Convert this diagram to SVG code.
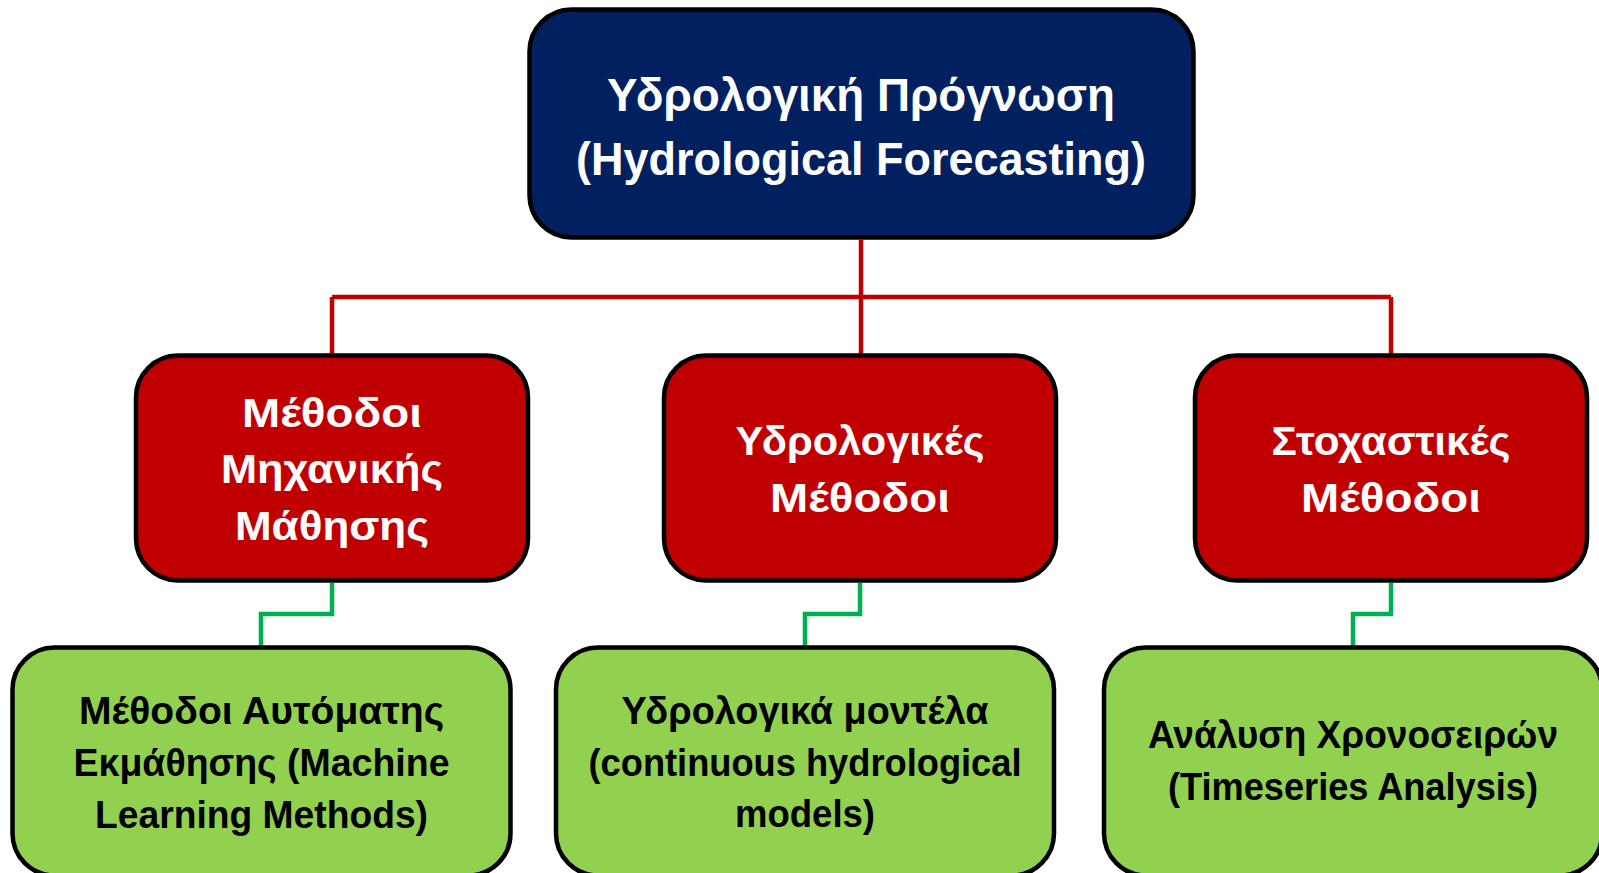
<svg xmlns="http://www.w3.org/2000/svg" width="1599" height="873" viewBox="0 0 1599 873">
<style>
.box{stroke:#000;stroke-width:4.5}
.top{fill:#002060}
.red{fill:#C00000}
.grn{fill:#92D050}
.t{font-family:"Liberation Sans",Arial,sans-serif;font-weight:bold;text-anchor:middle}
.w{fill:#fff}
.k{fill:#000}
.rl{fill:none;stroke:#C00000;stroke-width:4.5}
.gl{fill:none;stroke:#00B050;stroke-width:4.5;stroke-linejoin:miter}
</style>
<rect width="1599" height="873" fill="#fff"/>
<g id="connectors">
<path class="rl" d="M861 240 V354 M332 297 H1391 M332 297 V354 M1391 297 V354"/>
<path class="gl" d="M332 583 V614 H261 V646"/>
<path class="gl" d="M860 583 V614 H805 V646"/>
<path class="gl" d="M1391 583 V614 H1353 V646"/>
</g>
<g id="node-root">
<rect class="box top" x="529.5" y="9.5" width="664" height="228" rx="42"/>
<text class="t w" font-size="47" x="861" y="111" textLength="508" lengthAdjust="spacingAndGlyphs">Υδρολογική Πρόγνωση</text>
<text class="t w" font-size="47" x="861" y="175" textLength="570" lengthAdjust="spacingAndGlyphs">(Hydrological Forecasting)</text>
</g>
<g id="node-ml">
<rect class="box red" x="136" y="355.5" width="392" height="225" rx="42"/>
<text class="t w" font-size="40" x="332" y="427" textLength="180" lengthAdjust="spacingAndGlyphs">Μέθοδοι</text>
<text class="t w" font-size="40" x="332" y="483" textLength="222" lengthAdjust="spacingAndGlyphs">Μηχανικής</text>
<text class="t w" font-size="40" x="332" y="540" textLength="194" lengthAdjust="spacingAndGlyphs">Μάθησης</text>
</g>
<g id="node-hydro">
<rect class="box red" x="664" y="355.5" width="392" height="225" rx="42"/>
<text class="t w" font-size="40" x="860" y="455" textLength="249" lengthAdjust="spacingAndGlyphs">Υδρολογικές</text>
<text class="t w" font-size="40" x="860" y="512" textLength="180" lengthAdjust="spacingAndGlyphs">Μέθοδοι</text>
</g>
<g id="node-stoch">
<rect class="box red" x="1195" y="355.5" width="392" height="225" rx="42"/>
<text class="t w" font-size="40" x="1391" y="455" textLength="239" lengthAdjust="spacingAndGlyphs">Στοχαστικές</text>
<text class="t w" font-size="40" x="1391" y="512" textLength="180" lengthAdjust="spacingAndGlyphs">Μέθοδοι</text>
</g>
<g id="node-mlm">
<rect class="box grn" x="12.5" y="647.5" width="498" height="228" rx="42"/>
<text class="t k" font-size="39.5" x="261.5" y="724" textLength="365" lengthAdjust="spacingAndGlyphs">Μέθοδοι Αυτόματης</text>
<text class="t k" font-size="39.5" x="261.5" y="776" textLength="376" lengthAdjust="spacingAndGlyphs">Εκμάθησης (Machine</text>
<text class="t k" font-size="39.5" x="261.5" y="828" textLength="333" lengthAdjust="spacingAndGlyphs">Learning Methods)</text>
</g>
<g id="node-models">
<rect class="box grn" x="556" y="647.5" width="498" height="228" rx="42"/>
<text class="t k" font-size="39.5" x="805" y="724" textLength="367" lengthAdjust="spacingAndGlyphs">Υδρολογικά μοντέλα</text>
<text class="t k" font-size="39.5" x="805" y="776" textLength="433" lengthAdjust="spacingAndGlyphs">(continuous hydrological</text>
<text class="t k" font-size="39.5" x="805" y="827" textLength="140" lengthAdjust="spacingAndGlyphs">models)</text>
</g>
<g id="node-ts">
<rect class="box grn" x="1104" y="647.5" width="498" height="228" rx="42"/>
<text class="t k" font-size="39.5" x="1353" y="748" textLength="410" lengthAdjust="spacingAndGlyphs">Ανάλυση Χρονοσειρών</text>
<text class="t k" font-size="39.5" x="1353" y="800" textLength="370" lengthAdjust="spacingAndGlyphs">(Timeseries Analysis)</text>
</g>
</svg>
